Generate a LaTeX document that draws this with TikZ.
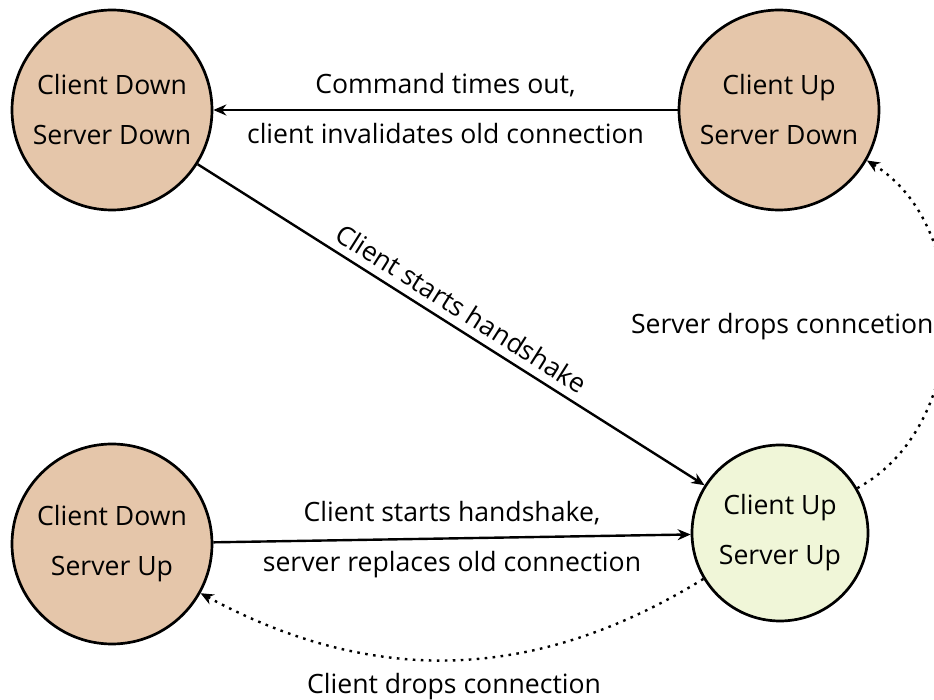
\documentclass[tikz,border=0pt]{standalone}
\usepackage{fontspec}
\setmainfont{Open Sans}
\usetikzlibrary{arrows.meta}
\definecolor{statetan}{RGB}{229,198,170}
\definecolor{stategreen}{RGB}{240,246,216}

\begin{document}
\begin{tikzpicture}[x=0.5pt, y=-0.5pt,
    font=\fontsize{13.3}{25}\selectfont,
    state/.style={circle, draw, line width=1.35pt, fill=statetan, align=center, inner sep=0pt, minimum size=100pt},
    small state/.style={state, fill=stategreen, minimum size=88pt},
    trans/.style={line width=1.2pt, -{Stealth[length=6.5pt, width=5.5pt]}},
    lost/.style={trans, dash pattern=on 1.3pt off 2.7pt},
    lbl/.style={inner sep=6pt}
    ]
    \useasboundingbox (0,0) rectangle (934,700);

    \node[state] (cdsd) at (112,110) {Client Down\\Server Down};
    \node[state] (cusd) at (779,110) {Client Up\\Server Down};
    \node[state] (cdsu) at (112,544) {Client Down\\Server Up};
    \node[small state] (cusu) at (780,533) {Client Up\\Server Up};

    \draw[trans] (cusd) -- node[lbl, above] {Command times out,} node[lbl, below] {client invalidates old connection} (cdsd);
    \draw[trans] (cdsd) -- node[lbl, sloped, above, inner sep=4pt] {Client starts handshake} (cusu);
    \draw[trans] (cdsu) -- node[lbl, above] {Client starts handshake,} node[lbl, below] {server replaces old connection} (cusu);
    %
    \draw[lost] (cusu) to[bend left=30] node[below, inner sep=6pt] {Client drops connection} (cdsu);
    \draw[lost] (cusu) to[bend right=60] node[left, xshift=-2pt] {Server drops conncetion} (cusd);
\end{tikzpicture}
\end{document}
